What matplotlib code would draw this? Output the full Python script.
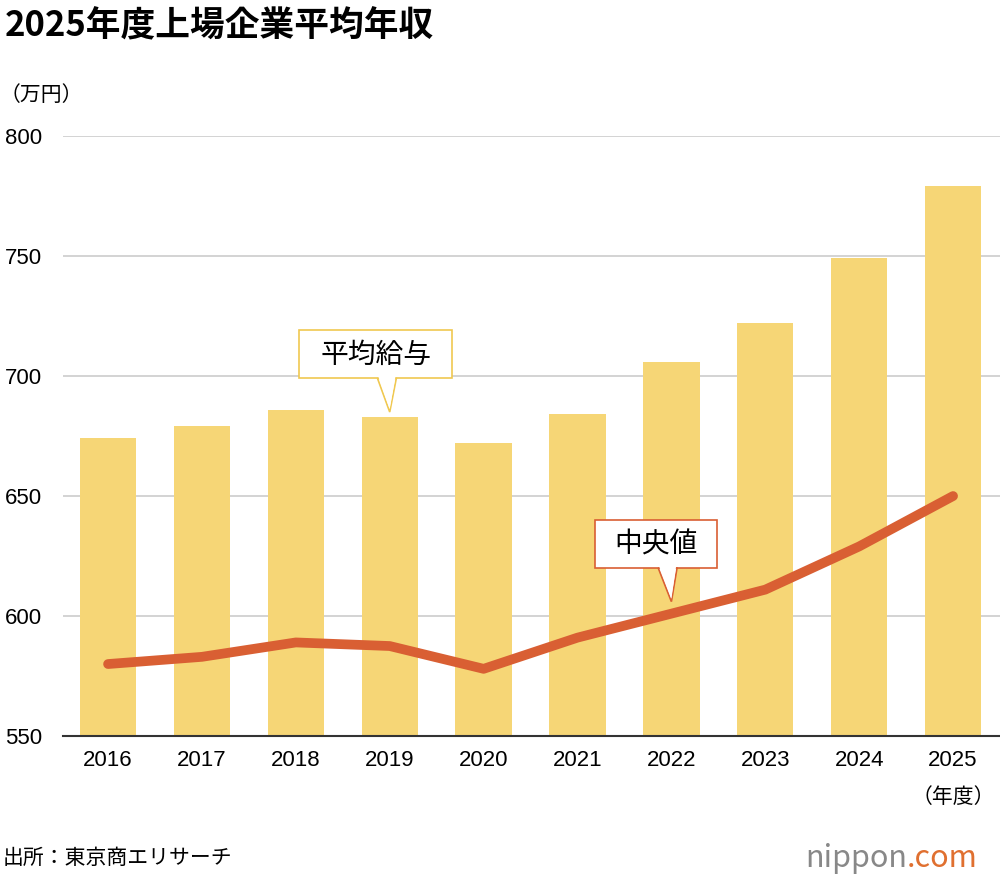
import matplotlib.pyplot as plt
from matplotlib.patches import Polygon, Rectangle

plt.rcParams['font.family'] = ['Noto Sans CJK JP', 'DejaVu Sans']

years = ["2016", "2017", "2018", "2019", "2020", "2021", "2022", "2023", "2024", "2025"]
average_pay = [674, 679, 686, 683, 672, 684, 706, 722, 749, 779]
median_pay = [580, 583, 589, 587.5, 578, 591, 601, 611, 629, 650]
yticks = [550, 600, 650, 700, 750, 800]
num_font = ['Liberation Sans', 'DejaVu Sans']

fig = plt.figure(figsize=(10, 8.8), dpi=100)
ax = fig.add_axes([0.063, 0.1636, 0.937, 0.6818])
x = list(range(len(years)))

ax.bar(x, average_pay, width=0.6, color="#f6d676", zorder=2)
ax.plot(x, median_pay, color="#d95f33", lw=7, solid_capstyle="round", zorder=3)

ax.set_xlim(-0.48, 9.5)
ax.set_ylim(550, 800)
ax.set_yticks(yticks)
ax.set_yticklabels([str(v) for v in yticks], fontsize=16, ha="left", family=num_font)
ax.tick_params(axis="y", length=0, pad=42)
ax.set_xticks(x)
ax.set_xticklabels(years, fontsize=16, family=num_font)
ax.tick_params(axis="x", length=0, pad=10)
ax.grid(axis="y", color="#cccccc", lw=1.2, zorder=0)
for s in ["top", "right", "left"]:
    ax.spines[s].set_visible(False)
ax.spines["bottom"].set_color("#333333")
ax.spines["bottom"].set_linewidth(1.5)
ax.spines["bottom"].set_zorder(4)

def callout(cx, cy, w, tipx, tipy, label, edge):
    h = 20
    ax.add_patch(Rectangle((cx - w / 2, cy - h / 2), w, h, fc="white", ec=edge, lw=1.2, zorder=5))
    b = cy - h / 2
    ax.add_patch(Polygon([[cx + 0.02, b], [cx + 0.22, b], [tipx, tipy]],
                         closed=True, fc="white", ec=edge, lw=1.2, zorder=5))
    ax.add_patch(Polygon([[cx + 0.03, b + 0.6], [cx + 0.21, b + 0.6], [tipx, tipy + 1.2]],
                         closed=True, fc="white", ec="none", zorder=6))
    ax.text(cx, cy, label, fontsize=20, ha="center", va="center", zorder=7)

callout(2.85, 709, 1.63, 3.0, 685, "平均給与", "#f0c850")
callout(5.84, 630, 1.3, 6.0, 606, "中央値", "#d95f33")

fig.text(0.005, 0.97, "2025年度上場企業平均年収", fontsize=25, fontweight="bold", va="center")
fig.text(0.0, 0.892, "（万円）", fontsize=15, va="center")
fig.text(0.953, 0.094, "（年度）", fontsize=15, ha="center", va="center")
fig.text(0.003, 0.025, "出所：東京商エリサーチ", fontsize=15, va="center")
logo = fig.text(0.805, 0.025, "nippon", fontsize=22, color="#888888", va="center")
ax.annotate(".com", xy=(1, 0.5), xycoords=logo, fontsize=22, color="#e07030",
            va="center", ha="left", annotation_clip=False)

fig.savefig("out.png")
